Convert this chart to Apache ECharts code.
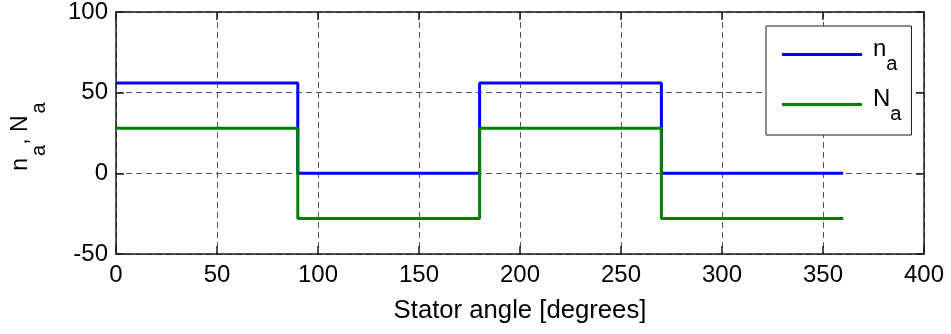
<!DOCTYPE html>
<html>
<head>
<meta charset="utf-8">
<script src="https://cdn.jsdelivr.net/npm/echarts@6/dist/echarts.min.js"></script>
<style>
  html, body { margin: 0; padding: 0; background: #fff; }
  #chart { width: 951px; height: 334px; }
</style>
</head>
<body>
<div id="chart"></div>
<script>
// step edges (degrees) and the level held after each edge
const angles = [0, 90, 180, 270, 360]
const nValues = [56, 0, 56, 0, 0]
const NValues = [28, -28, 28, -28, -28]
const xTicks = [0, 50, 100, 150, 200, 250, 300, 350, 400]
const yTicks = [-50, 0, 50, 100]

const font = 'Liberation Sans, Arial, sans-serif'
const toPairs = (vals) => angles.map((a, i) => [a, vals[i]])

const chart = echarts.init(document.getElementById('chart'))

// y axis title: main letters + dropped subscripts
const nameRich = {
  m: { fontSize: 23, lineHeight: 23, fontFamily: font, color: '#000', padding: [0, 0, 17, 0] },
  s: { fontSize: 20, lineHeight: 20, fontFamily: font, color: '#000', padding: [20, 0, 0, 2] },
  e: { fontSize: 20, lineHeight: 20, fontFamily: font, color: '#000', padding: [20, 7, 0, 2] }
}
// legend labels
const legendRich = {
  m: { fontSize: 24, lineHeight: 24, fontFamily: font, color: '#000', padding: [2, 0, 13, 6] },
  s: { fontSize: 20, lineHeight: 20, fontFamily: font, color: '#000', padding: [19, 0, 0, 0] }
}

const gridLine = { show: true, lineStyle: { color: '#555', type: [6, 4], width: 1 } }
const axisLine = { show: true, onZero: false, lineStyle: { color: '#1a1a1a', width: 1.5 } }
const tick = { show: true, inside: true, length: 8, lineStyle: { color: '#1a1a1a', width: 1.5 } }

const option = {
  animation: false,
  backgroundColor: '#fff',
  grid: { left: 116, right: 27, top: 11, bottom: 80 },
  legend: {
    orient: 'vertical',
    left: 766,
    top: 26,
    padding: [9, 10, 11, 16],
    itemGap: 11,
    itemWidth: 80,
    itemHeight: 3,
    icon: 'rect',
    backgroundColor: '#fff',
    borderColor: '#1a1a1a',
    borderWidth: 1,
    borderRadius: 0,
    formatter: (name) => name === 'n_a' ? '{m|n}{s|a}' : '{m|N}{s|a}',
    textStyle: { rich: legendRich }
  },
  xAxis: [
    {
      type: 'value', min: 0, max: 400, interval: 50,
      name: 'Stator angle [degrees]', nameLocation: 'middle', nameGap: 44,
      nameTextStyle: { fontSize: 25.7, fontFamily: font, color: '#000' },
      axisLine, axisTick: tick, splitLine: gridLine,
      axisLabel: { fontSize: 24, fontFamily: font, color: '#000', margin: 9,
        formatter: (v) => xTicks.includes(v) ? String(v) : '' }
    },
    {
      type: 'value', min: 0, max: 400, interval: 50, position: 'top',
      axisLine, axisTick: tick, splitLine: { show: false }, axisLabel: { show: false }
    }
  ],
  yAxis: [
    {
      type: 'value', min: -50, max: 100, interval: 50,
      name: '{m|n}{s|a}{m|, N}{e|a}', nameLocation: 'middle', nameGap: 75, nameRotate: 90,
      nameTextStyle: { rich: nameRich },
      axisLine, axisTick: tick, splitLine: gridLine,
      axisLabel: { fontSize: 24, fontFamily: font, color: '#000', margin: 8,
        formatter: (v) => yTicks.includes(v) ? String(v) : '' }
    },
    {
      type: 'value', min: -50, max: 100, interval: 50, position: 'right',
      axisLine, axisTick: tick, splitLine: { show: false }, axisLabel: { show: false }
    }
  ],
  series: [
    {
      name: 'n_a', type: 'line', step: 'end', data: toPairs(nValues),
      showSymbol: false, color: '#0000ff', lineStyle: { width: 3, color: '#0000ff' }
    },
    {
      name: 'N_a', type: 'line', step: 'end', data: toPairs(NValues),
      showSymbol: false, color: '#008000', lineStyle: { width: 3, color: '#008000' }
    }
  ]
}

option && chart.setOption(option)

window.addEventListener('resize', function () {
  chart.resize()
})
</script>
</body>
</html>
